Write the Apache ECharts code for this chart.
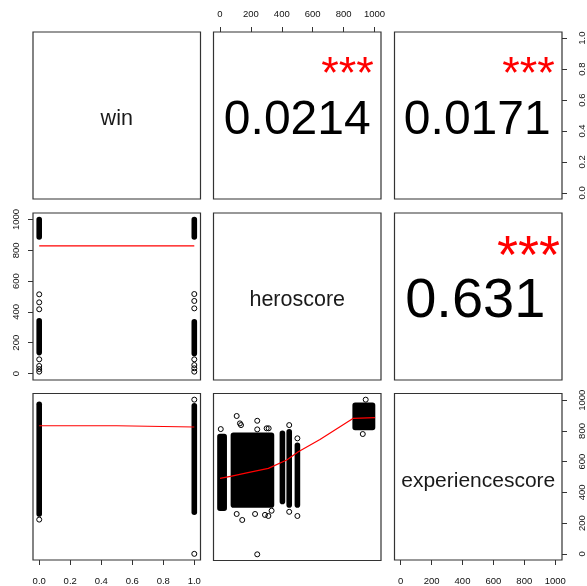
<!DOCTYPE html>
<html><head><meta charset="utf-8">
<script src="https://cdn.jsdelivr.net/npm/echarts@6/dist/echarts.min.js"></script>
<style>html,body{margin:0;padding:0;background:#fff}#c{width:587px;height:586px}</style>
</head><body><div id="c"></div><script>
// ---------- data ----------
const variables = ['win', 'heroscore', 'experiencescore'];
const corrValues = ['0.0214', '0.0171', '0.631'];   // (win,hero) (win,exp) (hero,exp)
const corrStars = ['***', '***', '***'];
const winTicks = [0, 0.2, 0.4, 0.6, 0.8, 1.0];
const scoreTicks = [0, 200, 400, 600, 800, 1000];
const axisLimits = { win: [-0.04, 1.04], heroscore: [-42, 1042], experiencescore: [-40, 1044] };

// heroscore (y) vs win (x): dense bands [xLow, xHigh, yLow, yHigh]
const heroWinBands = [[0, 0, 887, 1000], [0, 0, 136, 342], [1, 1, 887, 1000], [1, 1, 130, 336]];
const heroWinPoints = [[0, 514], [0, 462], [0, 417], [0, 92], [0, 49], [0, 29], [0, 12],
                       [1, 516], [1, 471], [1, 423], [1, 92], [1, 55], [1, 34], [1, 12]];
const heroWinSmooth = [[0, 828], [1, 828]];

// experiencescore (y) vs win (x)
const expWinBands = [[0, 0, 260, 974], [1, 1, 271, 964]];
const expWinPoints = [[0, 223], [1, 1004], [1, 0]];
const expWinSmooth = [[0, 834], [0.5, 834], [0.505, 826], [1, 826]];

// experiencescore (y) vs heroscore (x)
const expHeroBands = [[0, 27, 299, 764], [87, 333, 321, 773], [404, 404, 343, 786],
                      [448, 448, 321, 795], [501, 501, 321, 708], [875, 987, 823, 968]];
const expHeroPoints = [[5, 813], [108, 898], [129, 850], [136, 839], [241, 867], [241, 811],
                       [302, 818], [315, 818], [144, 223], [108, 262], [227, 262], [291, 256],
                       [334, 283], [313, 249], [241, 0], [448, 839], [448, 276], [501, 753],
                       [501, 249], [943, 1004], [924, 781]];
const expHeroSmooth = [[0, 493], [76, 508], [173, 529], [313, 558], [432, 612], [507, 666],
                       [647, 746], [863, 883], [1003, 887]];

// ---------- layout / style ----------
const FONT = "'Liberation Sans', Arial, sans-serif";
const panelLeft = [33, 213.5, 394.5], panelTop = [32, 213, 393.5], panelW = 167.5, panelH = 167;

const grids = [], xAxes = [], yAxes = [], series = [];

const visX = { '0,1': 'top', '2,0': 'bottom', '2,2': 'bottom' };
const visY = { '1,0': 'left', '0,2': 'right', '2,2': 'right' };

function ticksFor(v) { return v === 'win' ? winTicks : scoreTicks; }
function fmtFor(v) { return v === 'win' ? (x => x.toFixed(1)) : (x => String(x)); }

function dataAxis(dim, p, varName, position, visible) {
  const lim = axisLimits[varName];
  const ticks = ticksFor(varName);
  let margin;
  if (dim === 'x') margin = position === 'top' ? 13 : 16;
  else margin = position === 'left' ? 12 : 15;
  return {
    type: 'value', gridIndex: p, position: position, min: lim[0], max: lim[1],
    show: visible,
    axisLine: { show: false, onZero: false }, splitLine: { show: false },
    axisTick: { show: visible, inside: false, length: 5, customValues: ticks,
                lineStyle: { color: '#333', width: 1 } },
    axisLabel: { show: visible, customValues: ticks, formatter: fmtFor(varName),
                 rotate: dim === 'y' ? 90 : 0, margin: margin, fontSize: 9.5,
                 color: '#111', fontFamily: FONT }
  };
}
function unitAxis(p, position) {
  return { type: 'value', gridIndex: p, position: position, min: 0, max: 1, show: false,
           axisLine: { onZero: false }, splitLine: { show: false } };
}
const opp = { top: 'bottom', bottom: 'top', left: 'right', right: 'left' };

for (let r = 0; r < 3; r++) {
  for (let c = 0; c < 3; c++) {
    const p = r * 3 + c;
    grids.push({ left: panelLeft[c], top: panelTop[r], width: panelW, height: panelH,
                 show: true, borderColor: '#333', borderWidth: 1.2, backgroundColor: 'transparent' });
    const key = r + ',' + c;
    const xp = visX[key] || 'bottom', yp = visY[key] || 'left';
    xAxes.push(dataAxis('x', p, variables[c], xp, !!visX[key]));
    xAxes.push(unitAxis(p, opp[xp]));
    yAxes.push(dataAxis('y', p, variables[r], yp, !!visY[key]));
    yAxes.push(unitAxis(p, opp[yp]));
  }
}

function textSeries(p, text, size, color, offset) {
  return {
    type: 'scatter', xAxisIndex: 2 * p + 1, yAxisIndex: 2 * p + 1, silent: true,
    symbolSize: 0, data: [[text.pos[0], text.pos[1]]],
    itemStyle: { opacity: 1 },
    label: { show: true, position: 'inside', formatter: () => text.str, fontSize: size,
             color: color, fontFamily: FONT, offset: offset || [0, 0] }
  };
}

// diagonal names
const nameSizes = [21.5, 21.5, 21];
variables.forEach((v, i) => {
  series.push(textSeries(i * 4, { pos: [0.5, 0.5], str: v }, nameSizes[i], '#1a1a1a', [0, 4]));
});

// correlations in upper panels
const upperPanels = [[0, 1], [0, 2], [1, 2]];
const corrSizes = [48, 48, 56];
const corrOffsets = [[0, 5], [-1, 5], [-3, 5]];
const starSizes = [45, 45, 54];
const starOffsets = [[0, 10], [0, 10], [0, 12]];
upperPanels.forEach(([r, c], i) => {
  const p = r * 3 + c;
  series.push(textSeries(p, { pos: [0.5, 0.5], str: corrValues[i] }, corrSizes[i], '#000', corrOffsets[i]));
  series.push(textSeries(p, { pos: [0.8, 0.8], str: corrStars[i] }, starSizes[i], '#ff0000', starOffsets[i]));
});

function bandSeries(p, data) {
  return {
    type: 'custom', xAxisIndex: 2 * p, yAxisIndex: 2 * p, silent: true,
    encode: { x: [0, 1], y: [2, 3] },
    data: data,
    renderItem: function (params, api) {
      const a = api.coord([api.value(0), api.value(3)]);
      const b = api.coord([api.value(1), api.value(2)]);
      const rad = 2.8;
      return { type: 'rect',
               shape: { x: a[0] - rad, y: a[1] - rad, width: b[0] - a[0] + 2 * rad,
                        height: b[1] - a[1] + 2 * rad, r: rad },
               style: { fill: '#000' } };
    }
  };
}
function pointSeries(p, data) {
  return { type: 'scatter', xAxisIndex: 2 * p, yAxisIndex: 2 * p, silent: true,
           symbol: 'circle', symbolSize: 5, data: data,
           itemStyle: { color: 'rgba(0,0,0,0)', borderColor: '#000', borderWidth: 1, opacity: 1 } };
}
function smoothSeries(p, data) {
  return { type: 'line', xAxisIndex: 2 * p, yAxisIndex: 2 * p, silent: true,
           symbol: 'none', data: data, lineStyle: { color: '#ff0000', width: 1.2 }, z: 5 };
}

series.push(bandSeries(3, heroWinBands), pointSeries(3, heroWinPoints), smoothSeries(3, heroWinSmooth));
series.push(bandSeries(6, expWinBands), pointSeries(6, expWinPoints), smoothSeries(6, expWinSmooth));
series.push(bandSeries(7, expHeroBands), pointSeries(7, expHeroPoints), smoothSeries(7, expHeroSmooth));

const chart = echarts.init(document.getElementById('c'), null, { renderer: 'canvas' });
chart.setOption({
  animation: false,
  backgroundColor: '#fff',
  grid: grids, xAxis: xAxes, yAxis: yAxes, series: series
});
</script></body></html>
